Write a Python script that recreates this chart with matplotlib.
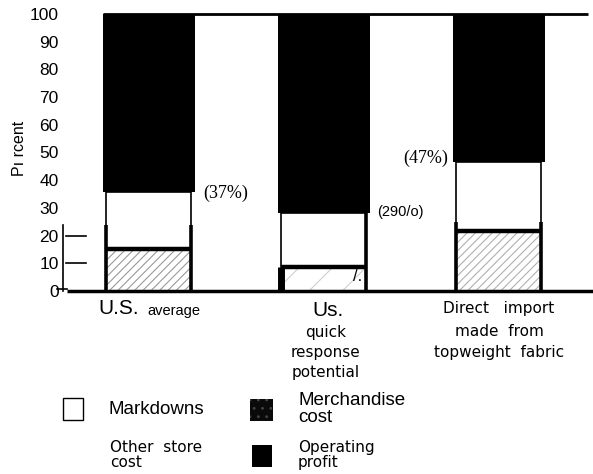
import matplotlib
matplotlib.use("Agg")
import matplotlib.pyplot as plt
from matplotlib.patches import Rectangle

# ---- data ----
groups = ["U.S. average", "Us. quick response potential", "Direct import made from topweight fabric"]
other_store_cost = [15.2, 8.7, 21.7]      # hatched bottom segment
markdowns = [20.5, 19.5, 24.9]            # white middle segment
operating_profit = [64.3, 71.8, 53.4]     # black top segment
pct_labels = ["(37%)", "(290/o)", "(47%)"]
y_ticks = [0, 10, 20, 30, 40, 50, 60, 70, 80, 90, 100]

W, H = 593, 474
fig = plt.figure(figsize=(W / 100, H / 100), dpi=100)
plt.rcParams['hatch.linewidth'] = 0.8


def fx(px):
    return px / W


def fy(py):
    return 1 - py / H


ax = fig.add_axes([fx(60), fy(291), fx(533), 277 / H])
unit = 87.5
x0 = -1.016
ax.set_xlim(x0, x0 + 533 / unit)
ax.set_ylim(0, 100)
for s in ax.spines.values():
    s.set_visible(False)
ax.set_xticks([])
ax.set_yticks(y_ticks)
ax.set_yticklabels([str(v) for v in y_ticks], fontsize=12.5, family="Liberation Sans")
ax.tick_params(axis="y", length=0, pad=1)

xs = [2 * i for i in range(len(groups))]
hatches = ["////", "/", "////"]
hatch_colors = ["#9a9a9a", "#cfcfcf", "#b0b0b0"]
# thick side-line extents (left, right) as style
side_tops = [(24, 24), (None, 28.2), (25, 25)]

for i, x in enumerate(xs):
    osc = other_store_cost[i]
    md = markdowns[i]
    op = operating_profit[i]
    # black top
    ax.bar(x, op, bottom=osc + md, width=1.05, color="black", linewidth=0)
    # hatched bottom
    ax.bar(x, osc, width=0.97, facecolor="white", edgecolor=hatch_colors[i],
           hatch=hatches[i], linewidth=0)
    # white markdowns box
    ax.bar(x, md, bottom=osc, width=0.97, facecolor="white", edgecolor="black",
           linewidth=1.2)
    # thick divider
    ax.plot([x - 0.485, x + 0.485], [osc, osc], color="black", lw=3.2,
            solid_capstyle="butt")
    lt, rt = side_tops[i]
    if lt is None:
        ax.plot([x - 0.485, x - 0.485], [0, osc], color="black", lw=5,
                solid_capstyle="butt")
    else:
        ax.plot([x - 0.485, x - 0.485], [0, lt], color="black", lw=2.6,
                solid_capstyle="butt")
    ax.plot([x + 0.485, x + 0.485], [0, rt], color="black", lw=2.6,
            solid_capstyle="butt")

# top line at 100 and baseline
ax.plot([xs[0] - 0.525, x0 + 528 / unit], [100, 100], color="black", lw=2,
        clip_on=False, solid_capstyle="butt")
ax.plot([x0 + 7 / unit, x0 + 533 / unit], [0, 0], color="black", lw=2.5,
        clip_on=False, solid_capstyle="butt")
ax.plot([x0 - 3 / unit, x0 + 7 / unit], [0.6, 0.6], color="black", lw=1.2,
        clip_on=False)

# small left axis with ticks
ax.plot([x0 + 3 / unit] * 2, [0, 24], color="black", lw=1.2, clip_on=False)
for t in [10, 20]:
    ax.plot([x0 + 6 / unit, x0 + 26 / unit], [t, t], color="black", lw=1.2,
            clip_on=False)

# percent annotations
ax.text(xs[0] + 0.62, 35.4, pct_labels[0], fontsize=13, family="Liberation Serif",
        va="center", ha="left")
ax.text(xs[1] + 0.61, 28.4, pct_labels[1], fontsize=10.5, family="Liberation Sans",
        va="center", ha="left")
ax.text(xs[2] - 0.58, 47.8, pct_labels[2], fontsize=13, family="Liberation Serif",
        va="center", ha="right")
ax.text(xs[1] + 0.33, 5.2, "/.", fontsize=12, family="Liberation Sans",
        va="center", ha="left")

# y label
fig.text(fx(19), fy(148), "Pı rcent", rotation=90, fontsize=11.5,
         family="Liberation Sans", ha="center", va="center")

# x labels
fig.text(fx(139), fy(309), "U.S.", fontsize=15, family="Liberation Sans",
         ha="right", va="center")
fig.text(fx(147), fy(311), "average", fontsize=10.5, family="Liberation Sans",
         ha="left", va="center")
fig.text(fx(328), fy(311), "Us.", fontsize=15, family="Liberation Sans",
         ha="center", va="center")
for txt, yy in [("quick", 332), ("response", 352), ("potential", 372)]:
    fig.text(fx(326), fy(yy), txt, fontsize=11, family="DejaVu Sans",
             ha="center", va="center")
for txt, yy in [("Direct   import", 309), ("made  from", 332), ("topweight  fabric", 352)]:
    fig.text(fx(499), fy(yy), txt, fontsize=11, family="DejaVu Sans",
             ha="center", va="center")

# legend
fig.add_artist(Rectangle((fx(63), fy(420)), fx(20), 22 / H, transform=fig.transFigure,
                         facecolor="white", edgecolor="black", lw=1))
fig.add_artist(Rectangle((fx(250), fy(421)), fx(23), 22 / H, transform=fig.transFigure,
                         facecolor="#0a0a0a", edgecolor="#444444", hatch="..", lw=0))
fig.add_artist(Rectangle((fx(252), fy(467)), fx(20), 22 / H, transform=fig.transFigure,
                         facecolor="black", edgecolor="black", lw=0))
fig.text(fx(108), fy(409), "Markdowns", fontsize=13.5, family="Liberation Sans",
         ha="left", va="center")
fig.text(fx(298), fy(409), "Merchandise\ncost", fontsize=13.5, family="Liberation Sans",
         ha="left", va="center", linespacing=1.0)
fig.text(fx(110), fy(455), "Other  store\ncost", fontsize=11, family="DejaVu Sans",
         ha="left", va="center", linespacing=1.05)
fig.text(fx(298), fy(455), "Operating\nprofit", fontsize=11, family="DejaVu Sans",
         ha="left", va="center", linespacing=1.05)

fig.savefig("out.png", dpi=100)
